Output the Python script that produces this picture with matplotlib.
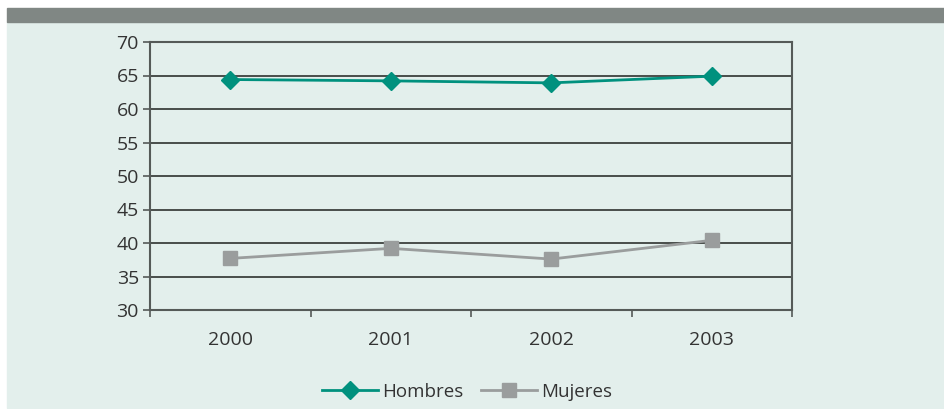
import matplotlib.pyplot as plt
from matplotlib.patches import Rectangle

years = ['2000', '2001', '2002', '2003']
hombres = [64.4, 64.2, 63.9, 64.9]
mujeres = [37.7, 39.2, 37.6, 40.4]
yticks = [30, 35, 40, 45, 50, 55, 60, 65, 70]

plt.rcParams['font.family'] = ['Open Sans', 'Noto Sans', 'DejaVu Sans']

W, H = 944, 409
fig = plt.figure(figsize=(W / 100, H / 100), dpi=100)
fig.patch.set_facecolor('white')

# background panel and top band (pixel coords -> figure fractions)
def rect(x0, y0, x1, y1, color):
  fig.patches.append(Rectangle((x0 / W, 1 - y1 / H), (x1 - x0) / W, (y1 - y0) / H,
                               transform=fig.transFigure, color=color, zorder=-5))

rect(7, 22, W, 408, '#e3efec')
rect(7, 8, W, 22, '#808784')

ax = fig.add_axes([150 / W, 1 - 310 / H, (792 - 150) / W, (310 - 42) / H])
ax.set_facecolor('none')

x = list(range(len(years)))
ax.plot(x, hombres, color='#00917e', lw=2, marker='D', ms=9, label='Hombres', zorder=3)
ax.plot(x, mujeres, color='#9a9d9d', lw=2, marker='s', ms=10, label='Mujeres', zorder=3)

ax.set_xlim(-0.5, 3.5)
ax.set_ylim(30, 70)
ax.set_yticks(yticks)
ax.yaxis.grid(True, color='#1e211f', lw=1.1)
ax.set_axisbelow(True)

ax.set_xticks(x)
ax.set_xticklabels(years)
ax.set_xticks([-0.5, 0.5, 1.5, 2.5, 3.5], minor=True)
ax.tick_params(axis='x', which='major', length=0, pad=15, labelsize=14, labelcolor='#333333')
ax.tick_params(axis='x', which='minor', length=5, width=1.2, color='#555a58', direction='out')
ax.tick_params(axis='y', length=5, width=1.2, color='#555a58', labelsize=14, labelcolor='#333333', pad=3)

for s in ax.spines.values():
  s.set_color('#555a58')
  s.set_linewidth(1.5)

leg = fig.legend(loc='center', bbox_to_anchor=(467 / W, 1 - 392 / H), ncol=2, frameon=False,
                 fontsize=13.5, handlelength=3.0, handletextpad=0.25, columnspacing=0.9)
for t in leg.get_texts():
  t.set_color('#333333')

fig.savefig('out.png', dpi=100)
